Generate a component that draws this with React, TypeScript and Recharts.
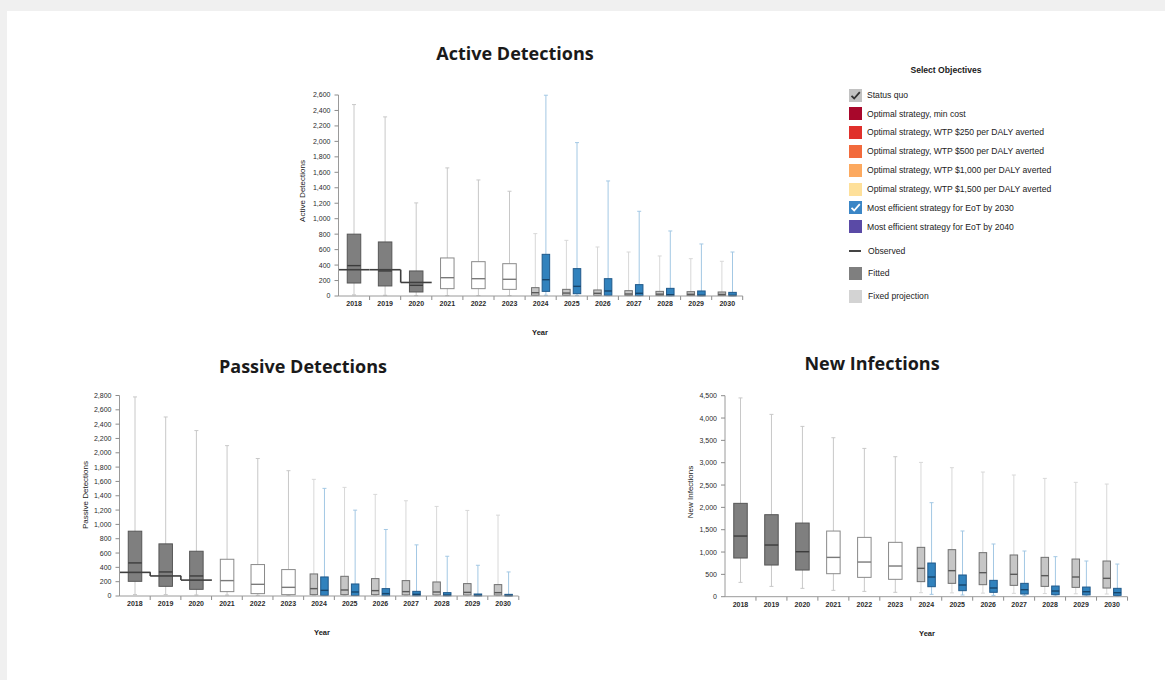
import React from 'react';
import { ComposedChart, Bar, XAxis, YAxis } from 'recharts';

type Box = [number, number, number, number, number];

const years = ['2018', '2019', '2020', '2021', '2022', '2023', '2024', '2025', '2026', '2027', '2028', '2029', '2030'];
const phases = ['fitted', 'fitted', 'fitted', 'projection', 'projection', 'projection', 'fixed', 'fixed', 'fixed', 'fixed', 'fixed', 'fixed', 'fixed'];

// [min, q1, median, q3, max]
const activeStatusQuo: Box[] = [
  [15, 168, 393, 800, 2476],
  [10, 130, 324, 699, 2317],
  [5, 52, 138, 324, 1204],
  [5, 95, 237, 492, 1657],
  [5, 95, 224, 444, 1501],
  [5, 86, 216, 418, 1355],
  [5, 9, 43, 108, 807],
  [5, 9, 38, 86, 720],
  [5, 9, 35, 78, 634],
  [4, 8, 26, 69, 569],
  [4, 8, 24, 60, 518],
  [3, 7, 22, 56, 483],
  [3, 6, 20, 52, 449],
];
const activeEoT2030: (Box | null)[] = [
  null, null, null, null, null, null,
  [10, 60, 211, 539, 2597],
  [5, 30, 125, 354, 1984],
  [3, 9, 65, 224, 1488],
  [2, 5, 35, 147, 1096],
  [1, 3, 17, 99, 841],
  [1, 2, 10, 65, 673],
  [1, 2, 8, 47, 569],
];
const activeObserved: (number | null)[] = [340, 340, 175, null, null, null, null, null, null, null, null, null, null];
const activeTicks = [0, 200, 400, 600, 800, 1000, 1200, 1400, 1600, 1800, 2000, 2200, 2400, 2600];

const passiveStatusQuo: Box[] = [
  [20, 205, 462, 905, 2780],
  [20, 135, 336, 728, 2500],
  [15, 93, 280, 625, 2310],
  [14, 61, 215, 513, 2100],
  [10, 33, 163, 439, 1920],
  [8, 19, 121, 369, 1750],
  [8, 19, 103, 308, 1629],
  [8, 19, 84, 275, 1517],
  [7, 19, 75, 243, 1419],
  [6, 16, 61, 215, 1330],
  [6, 15, 56, 196, 1251],
  [5, 14, 51, 173, 1195],
  [5, 13, 47, 159, 1129],
];
const passiveEoT2030: (Box | null)[] = [
  null, null, null, null, null, null,
  [5, 9, 79, 266, 1503],
  [4, 7, 56, 168, 1199],
  [3, 5, 33, 103, 929],
  [2, 4, 23, 65, 714],
  [2, 3, 12, 47, 555],
  [1, 2, 8, 28, 429],
  [1, 2, 6, 23, 336],
];
const passiveObserved: (number | null)[] = [330, 280, 222, null, null, null, null, null, null, null, null, null, null];
const passiveTicks = [0, 200, 400, 600, 800, 1000, 1200, 1400, 1600, 1800, 2000, 2200, 2400, 2600, 2800];

const infectionsStatusQuo: Box[] = [
  [321, 866, 1358, 2090, 4450],
  [231, 709, 1157, 1836, 4082],
  [187, 597, 1007, 1649, 3813],
  [142, 515, 880, 1470, 3559],
  [119, 433, 776, 1328, 3320],
  [98, 389, 687, 1217, 3134],
  [90, 337, 635, 1105, 3007],
  [85, 299, 583, 1053, 2888],
  [80, 269, 538, 986, 2791],
  [75, 254, 501, 934, 2724],
  [70, 231, 471, 881, 2649],
  [65, 209, 441, 843, 2560],
  [60, 194, 411, 799, 2522],
];
const infectionsEoT2030: (Box | null)[] = [
  null, null, null, null, null, null,
  [53, 224, 441, 754, 2105],
  [38, 135, 262, 486, 1471],
  [30, 98, 195, 366, 1180],
  [22, 60, 157, 299, 1023],
  [18, 45, 127, 239, 896],
  [15, 40, 112, 216, 799],
  [12, 30, 90, 187, 731],
];
const infectionsObserved: (number | null)[] = [null, null, null, null, null, null, null, null, null, null, null, null, null];
const infectionsTicks = [0, 500, 1000, 1500, 2000, 2500, 3000, 3500, 4000, 4500];

const legendItems = [
  { label: 'Status quo', kind: 'check', color: '#c2c2c2', mark: '#333333' },
  { label: 'Optimal strategy, min cost', kind: 'swatch', color: '#a8072b' },
  { label: 'Optimal strategy, WTP $250 per DALY averted', kind: 'swatch', color: '#e0302b' },
  { label: 'Optimal strategy, WTP $500 per DALY averted', kind: 'swatch', color: '#f26a3c' },
  { label: 'Optimal strategy, WTP $1,000 per DALY averted', kind: 'swatch', color: '#fca95f' },
  { label: 'Optimal strategy, WTP $1,500 per DALY averted', kind: 'swatch', color: '#fee09a' },
  { label: 'Most efficient strategy for EoT by 2030', kind: 'check', color: '#3b86c6', mark: '#ffffff' },
  { label: 'Most efficient strategy for EoT by 2040', kind: 'swatch', color: '#5a4aa6' },
  { label: 'Observed', kind: 'line', color: '#444444' },
  { label: 'Fitted', kind: 'swatch', color: '#7f7f7f' },
  { label: 'Fixed projection', kind: 'swatch', color: '#d3d3d3' },
];
const legendTops = [95, 113.5, 132.3, 151, 170, 189, 207.7, 226.7, 251, 273.3, 296];

const STYLES: Record<string, { fill: string; stroke: string; median: string; whisker: string }> = {
  fitted: { fill: '#7f7f7f', stroke: '#565656', median: '#3c3c3c', whisker: '#c8c8c8' },
  projection: { fill: '#ffffff', stroke: '#8a8a8a', median: '#7a7a7a', whisker: '#c8c8c8' },
  fixed: { fill: '#c6c6c6', stroke: '#707070', median: '#595959', whisker: '#d8d8d8' },
  eot: { fill: '#3182bd', stroke: '#20598a', median: '#17456b', whisker: '#a3c8e4' },
};

const FONT = '"Liberation Sans", Arial, sans-serif';

function buildRows(sq: Box[], eot: (Box | null)[], obs: (number | null)[]) {
  return years.map((year, i) => ({
    year,
    phase: phases[i],
    sqRange: [sq[i][0], sq[i][4]],
    sqBox: sq[i],
    eotRange: eot[i] ? [eot[i]![0], eot[i]![4]] : null,
    eotBox: eot[i],
    obs: obs[i],
    obsPrev: i > 0 ? obs[i - 1] : null,
  }));
}

function makeBoxShape(role: 'sq' | 'eot', count: number) {
  return (props: any) => {
    const { x, y, width, height, payload, index } = props;
    const b: Box | null = role === 'sq' ? payload.sqBox : payload.eotBox;
    if (!b) return <g />;
    const [lo, q1, med, q3, hi] = b;
    const sy = (v: number) => (hi === lo ? y : y + (height * (hi - v)) / (hi - lo));
    const c0 = x + width / 2;
    const paired = payload.eotBox != null;
    const bw = paired ? 7.5 : 13.5;
    const cx = role === 'eot' ? c0 + 5.3 : paired ? c0 - 5.3 : c0;
    const st = role === 'eot' ? STYLES.eot : STYLES[payload.phase];
    const y0 = sy(0);
    return (
      <g>
        {role === 'sq' && index > 0 && <line x1={x} x2={x} y1={y0} y2={y0 + 4} stroke="#8c8c8c" strokeWidth={1} />}
        {role === 'sq' && index === count - 1 && (
          <line x1={x + width} x2={x + width} y1={y0} y2={y0 + 4} stroke="#8c8c8c" strokeWidth={1} />
        )}
        <line x1={cx} x2={cx} y1={sy(hi)} y2={sy(lo)} stroke={st.whisker} strokeWidth={1} />
        <line x1={cx - 2} x2={cx + 2} y1={sy(hi)} y2={sy(hi)} stroke={st.whisker} strokeWidth={1} />
        <line x1={cx - 2} x2={cx + 2} y1={sy(lo)} y2={sy(lo)} stroke={st.whisker} strokeWidth={1} />
        <rect x={cx - bw / 2} y={sy(q3)} width={bw} height={Math.max(sy(q1) - sy(q3), 0.5)} fill={st.fill} stroke={st.stroke} strokeWidth={1} />
        <line x1={cx - bw / 2} x2={cx + bw / 2} y1={sy(med)} y2={sy(med)} stroke={st.median} strokeWidth={1.4} />
      </g>
    );
  };
}

function ObservedShape(props: any) {
  const { x, y, width, height, payload } = props;
  const v = payload.obs;
  if (v == null) return <g />;
  const y0 = y + height;
  const unit = height / v;
  const prev = payload.obsPrev;
  return (
    <g>
      <line x1={x} x2={x + width} y1={y} y2={y} stroke="#3f3f3f" strokeWidth={1.6} />
      {prev != null && <line x1={x} x2={x} y1={y0 - prev * unit} y2={y} stroke="#3f3f3f" strokeWidth={1.6} />}
    </g>
  );
}

type PanelProps = {
  left: number; top: number; width: number; height: number;
  margin: { top: number; right: number; bottom: number; left: number };
  yWidth: number;
  sq: Box[]; eot: (Box | null)[]; obs: (number | null)[];
  ticks: number[];
};

function Panel(p: PanelProps) {
  const rows = buildRows(p.sq, p.eot, p.obs);
  const max = p.ticks[p.ticks.length - 1];
  const tickStyle = { fontSize: 7, fill: '#2b2b2b', fontFamily: FONT };
  return (
    <div style={{ position: 'absolute', left: p.left, top: p.top }}>
      <ComposedChart width={p.width} height={p.height} data={rows} margin={p.margin} barCategoryGap={0} barGap={0}>
        <XAxis
          xAxisId="main"
          dataKey="year"
          interval={0}
          tickLine={false}
          tickSize={0}
          tickMargin={5.5}
          axisLine={{ stroke: '#9a9a9a' }}
          tick={{ ...tickStyle, fontWeight: 700 }}
          height={20}
        />
        <XAxis xAxisId="eot" dataKey="year" hide height={0} />
        <XAxis xAxisId="obs" dataKey="year" hide height={0} />
        <YAxis
          type="number"
          domain={[0, max]}
          ticks={p.ticks}
          interval={0}
          width={p.yWidth}
          tickSize={4}
          tickMargin={4}
          axisLine={{ stroke: '#9a9a9a' }}
          tickLine={{ stroke: '#8c8c8c' }}
          tick={tickStyle}
          tickFormatter={(v: number) => v.toLocaleString('en-US')}
        />
        <Bar xAxisId="main" dataKey="sqRange" isAnimationActive={false} shape={makeBoxShape('sq', years.length)} />
        <Bar xAxisId="eot" dataKey="eotRange" isAnimationActive={false} shape={makeBoxShape('eot', years.length)} />
        <Bar xAxisId="obs" dataKey="obs" isAnimationActive={false} shape={ObservedShape} />
      </ComposedChart>
    </div>
  );
}

function Txt({ x, y, size, bold, family, children, rotate }: any) {
  return (
    <div
      style={{
        position: 'absolute',
        left: x,
        top: y,
        transform: `translate(-50%, -50%)${rotate ? ` rotate(${rotate}deg)` : ''}`,
        fontSize: size,
        fontWeight: bold ? 700 : 400,
        fontFamily: family || FONT,
        color: '#1a1a1a',
        whiteSpace: 'nowrap',
        lineHeight: 1,
      }}
    >
      {children}
    </div>
  );
}

function Legend() {
  return (
    <>
      <Txt x={946} y={70} size={8.6} bold>Select Objectives</Txt>
      {legendItems.map((it, i) => {
        const top = legendTops[i];
        return (
          <div key={it.label} style={{ position: 'absolute', left: 849, top: top - 6.5, height: 13, display: 'flex', alignItems: 'center', fontFamily: FONT, fontSize: 8.6, color: '#222', whiteSpace: 'nowrap' }}>
            {it.kind === 'line' ? (
              <div style={{ width: 13, height: 13, display: 'flex', alignItems: 'center' }}>
                <div style={{ width: 12, height: 1.5, background: it.color }} />
              </div>
            ) : (
              <div style={{ width: 13, height: 13, background: it.color, position: 'relative' }}>
                {it.kind === 'check' && (
                  <svg width={13} height={13} style={{ position: 'absolute', left: 0, top: 0 }}>
                    <path d="M2.5 6.8 L5.2 9.5 L10.8 3.2" fill="none" stroke={it.mark} strokeWidth={1.8} />
                  </svg>
                )}
              </div>
            )}
            <span style={{ marginLeft: i < 8 ? 5 : 6 }}>{it.label}</span>
          </div>
        );
      })}
    </>
  );
}

export default function App() {
  return (
    <div style={{ position: 'absolute', left: 0, top: 0, width: 1165, height: 680, background: '#f0f0f0', overflow: 'hidden' }}>
      <div style={{ position: 'absolute', left: 7, top: 11, width: 1158, height: 669, background: '#ffffff' }} />
      <Txt x={515} y={53} size={18} bold family='"Open Sans", sans-serif'>Active Detections</Txt>
      <Txt x={303} y={366} size={18} bold family='"Open Sans", sans-serif'>Passive Detections</Txt>
      <Txt x={872} y={363} size={18} bold family='"Open Sans", sans-serif'>New Infections</Txt>

      <Panel
        left={280} top={80} width={480} height={270}
        margin={{ top: 15, right: 17.2, bottom: 34, left: 0 }}
        yWidth={58.5}
        sq={activeStatusQuo} eot={activeEoT2030} obs={activeObserved} ticks={activeTicks}
      />
      <Panel
        left={60} top={380} width={480} height={270}
        margin={{ top: 15.5, right: 21.5, bottom: 34, left: 0 }}
        yWidth={59.5}
        sq={passiveStatusQuo} eot={passiveEoT2030} obs={passiveObserved} ticks={passiveTicks}
      />
      <Panel
        left={665} top={380} width={480} height={270}
        margin={{ top: 15.7, right: 17.5, bottom: 33.3, left: 0 }}
        yWidth={60}
        sq={infectionsStatusQuo} eot={infectionsEoT2030} obs={infectionsObserved} ticks={infectionsTicks}
      />

      <Txt x={303} y={191} size={8} rotate={-90}>Active Detections</Txt>
      <Txt x={85.5} y={495} size={8} rotate={-90}>Passive Detections</Txt>
      <Txt x={690.5} y={492} size={8} rotate={-90}>New Infections</Txt>
      <Txt x={540} y={333} size={7.5} bold>Year</Txt>
      <Txt x={322} y={633} size={7.5} bold>Year</Txt>
      <Txt x={927} y={634} size={7.5} bold>Year</Txt>

      <Legend />
    </div>
  );
}
